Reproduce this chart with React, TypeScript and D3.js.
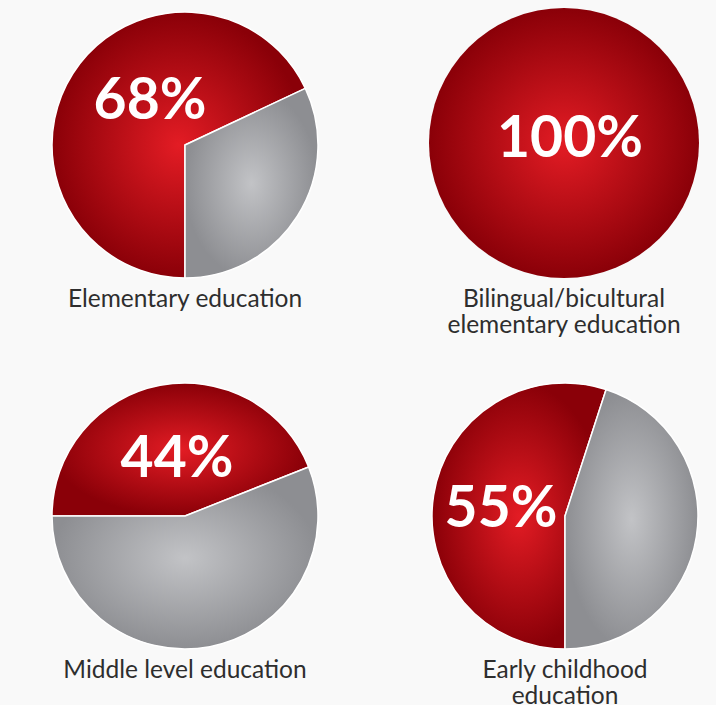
import { useEffect, useRef } from 'react';
import * as d3 from 'd3';

// Share of each programme (percent shown in red), in reading order.
const CATEGORIES: string[][] = [
  ['Elementary education'],
  ['Bilingual/bicultural', 'elementary education'],
  ['Middle level education'],
  ['Early childhood', 'education'],
];
const SHARES = [68, 100, 44, 55];

// Where the red slice starts, in degrees clockwise from 12 o'clock.
const START_DEG = [180, 0, 270, 180];

// Panel layout: pie centre, radius and offset of the big percent label.
const LAYOUT = [
  { cx: 185, cy: 145, r: 133, tx: -35, ty: -26 },
  { cx: 564, cy: 143, r: 135, tx: 6, ty: 14 },
  { cx: 185, cy: 516, r: 133, tx: -8, ty: -39 },
  { cx: 565, cy: 516, r: 133, tx: -64, ty: 11 },
];

const WIDTH = 716;
const HEIGHT = 705;
const RED = ['#e31c24', '#8a0008'];
const GREY = ['#c2c3c6', '#8d8e92'];
const FONT = 'Lato, "Open Sans", sans-serif';

export default function App() {
  const svgRef = useRef<SVGSVGElement>(null);

  useEffect(() => {
    if (!svgRef.current) return;
    const svg = d3.select(svgRef.current);
    svg.selectAll('*').remove();

    svg.append('rect').attr('width', WIDTH).attr('height', HEIGHT).attr('fill', '#f9f9f9');

    const defs = svg.append('defs');
    const addGradient = (id: string, stops: string[]) => {
      const g = defs.append('radialGradient').attr('id', id);
      g.append('stop').attr('offset', '0%').attr('stop-color', stops[0]);
      g.append('stop').attr('offset', '100%').attr('stop-color', stops[1]);
    };
    addGradient('grad-red', RED);
    addGradient('grad-grey', GREY);

    SHARES.forEach((share, i) => {
      const { cx, cy, r, tx, ty } = LAYOUT[i];
      const start = (START_DEG[i] * Math.PI) / 180;
      const pie = d3.pie<number>().sort(null).startAngle(start).endAngle(start + 2 * Math.PI);
      const arc = d3.arc<d3.PieArcDatum<number>>().innerRadius(0).outerRadius(r);

      const g = svg.append('g').attr('transform', `translate(${cx},${cy})`);

      g.selectAll('path')
        .data(pie([share, 100 - share]).filter((d) => d.value > 0))
        .join('path')
        .attr('d', arc)
        .attr('fill', (d) => (d.index === 0 ? 'url(#grad-red)' : 'url(#grad-grey)'))
        .attr('stroke', share < 100 ? '#ffffff' : 'none')
        .attr('stroke-width', 1.5)
        .attr('stroke-linejoin', 'round');

      g.append('text')
        .attr('x', tx)
        .attr('y', ty)
        .attr('text-anchor', 'middle')
        .attr('font-family', FONT)
        .attr('font-weight', 700)
        .attr('font-size', 57)
        .attr('fill', '#ffffff')
        .text(`${share}%`);

      const label = g.append('text')
        .attr('text-anchor', 'middle')
        .attr('font-family', FONT)
        .attr('font-size', 24.5)
        .attr('fill', '#2e2e2e');
      CATEGORIES[i].forEach((line, j) => {
        label.append('tspan')
          .attr('x', 0)
          .attr('y', r + 29 + j * 26)
          .text(line);
      });
    });
  }, []);

  return (
    <svg
      ref={svgRef}
      width={WIDTH}
      height={HEIGHT}
      style={{ position: 'absolute', left: 0, top: 0, display: 'block' }}
    />
  );
}
